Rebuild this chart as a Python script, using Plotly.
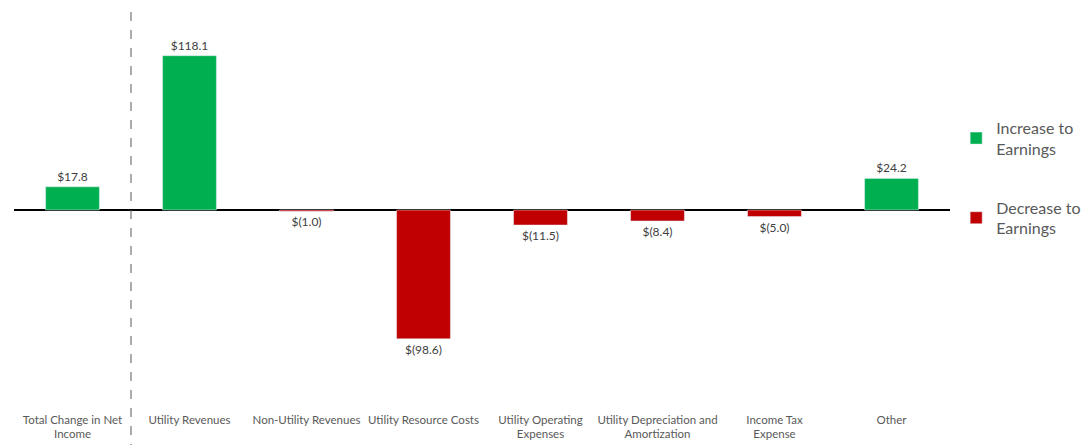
import plotly.graph_objects as go

categories = [
    "Total Change in Net<br>Income",
    "Utility Revenues",
    "Non-Utility Revenues",
    "Utility Resource Costs",
    "Utility Operating<br>Expenses",
    "Utility Depreciation and<br>Amortization",
    "Income Tax<br>Expense",
    "Other",
]
values = [17.8, 118.1, -1.0, -98.6, -11.5, -8.4, -5.0, 24.2]


def fmt(v):
    return f"${v:.1f}" if v >= 0 else f"$({abs(v):.1f})"


inc_y = [v if v >= 0 else None for v in values]
dec_y = [v if v < 0 else None for v in values]

fig = go.Figure()
fig.add_trace(go.Bar(
    x=categories, y=inc_y, name="Increase to<br>Earnings",
    legendgroup="inc",
    marker_color="#00B050", width=0.46,
    text=[fmt(v) if v is not None else "" for v in inc_y],
    textposition="outside", cliponaxis=False,
    textfont=dict(size=12, color="#404040"),
))
fig.add_trace(go.Bar(
    x=categories, y=dec_y, name="Decrease to<br>Earnings",
    legendgroup="dec",
    marker_color="#C00000", width=0.46,
    text=[fmt(v) if v is not None else "" for v in dec_y],
    textposition="outside", cliponaxis=False,
    textfont=dict(size=12, color="#404040"),
))

# dashed separator between total and drivers
fig.add_shape(type="line", xref="x", yref="paper", x0=0.5, x1=0.5,
              y0=-0.12, y1=1.01,
              line=dict(color="#595959", width=1, dash="dash"))

# page body adds ~8px offset, so figure is a bit smaller than the window
fig.update_layout(
    width=1084, height=437,
    margin=dict(l=6, r=142, t=6, b=39, autoexpand=False),
    barmode="overlay",
    plot_bgcolor="white", paper_bgcolor="white",
    font=dict(family="Lato, Noto Sans, sans-serif", color="#595959"),
    showlegend=True,
    legend=dict(x=1.0066, y=0.753, xanchor="left", yanchor="top",
                font=dict(size=16, color="#595959"),
                tracegroupgap=35, itemwidth=30),
    xaxis=dict(showgrid=False, showline=False, ticks="",
               ticklabelstandoff=5,
               tickfont=dict(size=11.5, color="#595959")),
    yaxis=dict(range=[-150, 150], showticklabels=False, showgrid=False,
               zeroline=True, zerolinecolor="black", zerolinewidth=1.5),
)

fig.write_html("out.html")
